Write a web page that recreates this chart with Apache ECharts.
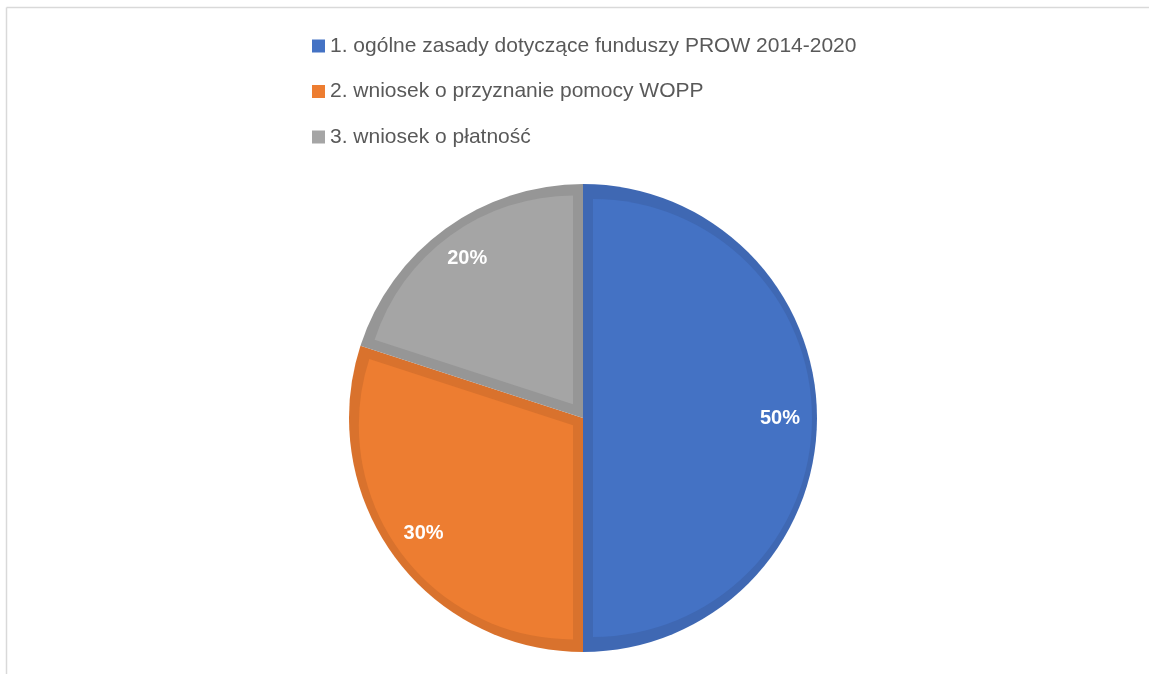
<!DOCTYPE html>
<html>
<head>
<meta charset="utf-8">
<script src="https://cdn.jsdelivr.net/npm/echarts@6/dist/echarts.min.js"></script>
<style>html,body{margin:0;padding:0;background:#fff}#c{width:1149px;height:674px}</style>
</head>
<body>
<div id="c"></div>
<script>
var categories = ['1. ogólne zasady dotyczące funduszy PROW 2014-2020', '2. wniosek o przyznanie pomocy WOPP', '3. wniosek o płatność'];
var values = [50, 30, 20];
var fillColors = ['#4472C4', '#ED7D31', '#A5A5A5'];
var edgeColors = ['#3F68B3', '#D9722D', '#969696'];

var CX = 583, CY = 418, R = 234, BAND = 10;
var chart = echarts.init(document.getElementById('c'));

var total = values.reduce(function (a, b) { return a + b; }, 0);
var series = [];
// base: full pie in edge (darker) colours
series.push({
  type: 'pie', center: [CX, CY], radius: [0, R], startAngle: 90, clockwise: true,
  silent: true, label: { show: false }, labelLine: { show: false },
  data: categories.map(function (n, i) { return { name: n, value: values[i], itemStyle: { color: edgeColors[i] } }; })
});
// inset lighter fill per slice
var cum = 0;
values.forEach(function (v, i) {
  var theta = v / total * 2 * Math.PI;
  var start = Math.PI / 2 - cum / total * 2 * Math.PI;
  var mid = start - theta / 2;
  cum += v;
  var d = BAND / Math.sin(Math.min(theta, Math.PI) / 2);
  var r = (R - BAND) - d * (1 + Math.cos(Math.min(theta, Math.PI) / 2)) / 2;
  series.push({
    type: 'pie',
    center: [CX + d * Math.cos(mid), CY - d * Math.sin(mid)],
    radius: [0, r], startAngle: 90, clockwise: true,
    silent: true, label: { show: false }, labelLine: { show: false },
    data: categories.map(function (n, j) {
      return { name: n, value: values[j], itemStyle: { color: j === i ? fillColors[j] : 'rgba(0,0,0,0)' } };
    })
  });
});
// labels
series.push({
  type: 'pie', center: [CX, CY], radius: [158, 230], startAngle: 90, clockwise: true,
  silent: true, itemStyle: { color: 'rgba(0,0,0,0)' },
  label: {
    show: true, position: 'inside', formatter: '{d}%', color: '#fff',
    fontWeight: 'bold', fontFamily: 'Liberation Sans', fontSize: 20
  },
  labelLine: { show: false },
  data: categories.map(function (n, i) { return { name: n, value: values[i] }; })
});

chart.setOption({
  animation: false,
  backgroundColor: '#fff',
  graphic: [
    { type: 'line', shape: { x1: 6.5, y1: 7.5, x2: 1149, y2: 7.5 }, style: { stroke: '#d9d9d9', lineWidth: 1.5 } },
    { type: 'line', shape: { x1: 6.5, y1: 7.5, x2: 6.5, y2: 674 }, style: { stroke: '#d9d9d9', lineWidth: 1.5 } }
  ],
  legend: {
    orient: 'vertical',
    left: 312,
    top: 34,
    padding: 0,
    itemWidth: 13,
    itemHeight: 13,
    itemGap: 21.5,
    icon: 'rect',
    data: categories.map(function (n, i) { return { name: n, itemStyle: { color: fillColors[i], borderWidth: 0 } }; }),
    textStyle: { fontFamily: 'Liberation Sans', fontSize: 21, lineHeight: 24, color: '#595959' }
  },
  series: series
});
</script>
</body>
</html>
